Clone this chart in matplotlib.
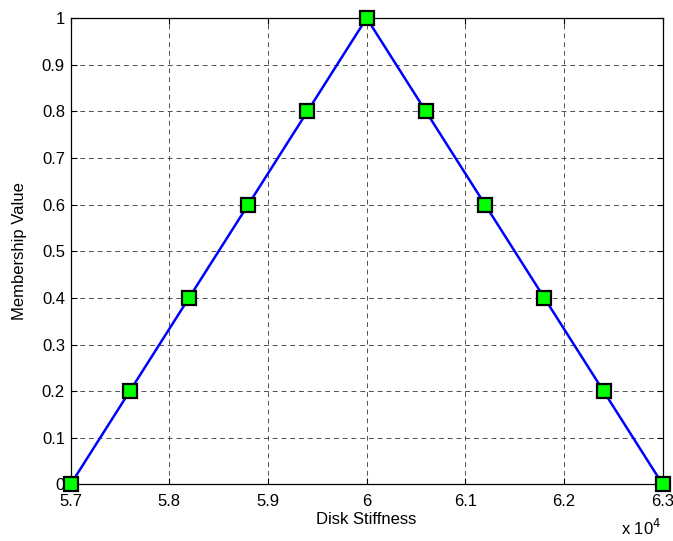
import numpy as np
import matplotlib.pyplot as plt

plt.rcParams['font.family'] = ['Liberation Sans', 'DejaVu Sans']

# triangular membership function for disk stiffness
stiffness = [57000, 57600, 58200, 58800, 59400, 60000,
             60600, 61200, 61800, 62400, 63000]
membership = [0, 0.2, 0.4, 0.6, 0.8, 1.0, 0.8, 0.6, 0.4, 0.2, 0]

xticks = [5.7, 5.8, 5.9, 6.0, 6.1, 6.2, 6.3]
xtick_labels = ['5.7', '5.8', '5.9', '6', '6.1', '6.2', '6.3']
yticks = [0, 0.1, 0.2, 0.3, 0.4, 0.5, 0.6, 0.7, 0.8, 0.9, 1]
ytick_labels = ['0', '0.1', '0.2', '0.3', '0.4', '0.5', '0.6', '0.7', '0.8', '0.9', '1']

scale = 1e4
fs = 12

fig = plt.figure(figsize=(6.73, 5.41), dpi=100)
ax = fig.add_axes([0.1048, 0.1045, 0.88, 0.862])

ax.plot(np.array(stiffness) / scale, membership, color='#0000ff', lw=1.8,
        marker='s', markersize=9.5, markerfacecolor='#00ff00',
        markeredgecolor='black', markeredgewidth=1.6, clip_on=False, zorder=5)

ax.set_xlim(5.7, 6.3)
ax.set_ylim(0, 1)
ax.set_xticks(xticks)
ax.set_xticklabels(xtick_labels)
ax.set_yticks(yticks)
ax.set_yticklabels(ytick_labels)

ax.grid(True, color='#333333', linestyle=(0, (5, 4)), linewidth=0.7, alpha=0.85)
ax.tick_params(direction='in', length=4, width=0.8, labelsize=fs,
               top=True, right=True)
ax.tick_params(axis='x', pad=7)
ax.tick_params(axis='y', pad=4)
for s in ax.spines.values():
    s.set_linewidth(0.9)

ax.set_xlabel('Disk Stiffness', fontsize=fs, labelpad=2)
ax.set_ylabel('Membership Value', fontsize=fs, labelpad=11)
fig.text(0.982, 0.006, r'x 10$^{4}$', fontsize=fs, ha='right', va='bottom')

fig.savefig('out.png', dpi=100)
plt.close(fig)
